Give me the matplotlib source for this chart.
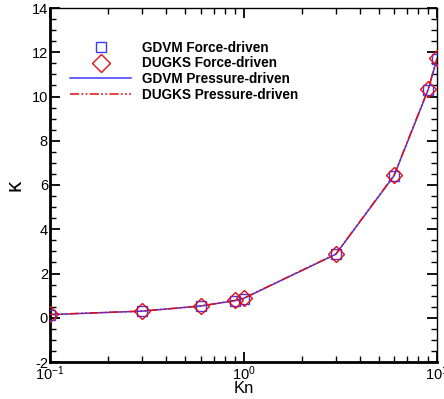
import matplotlib
matplotlib.use("Agg")
import matplotlib.pyplot as plt
from matplotlib.lines import Line2D
from matplotlib.ticker import MultipleLocator, LogLocator, NullFormatter

plt.rcParams['font.family'] = ['Liberation Sans', 'DejaVu Sans']
plt.rcParams['mathtext.fontset'] = 'custom'
plt.rcParams['mathtext.rm'] = 'Liberation Sans'
plt.rcParams['axes.unicode_minus'] = False

kn = [0.1, 0.3, 0.6, 0.9, 1.0, 3.0, 6.0, 9.0, 10.0]
gdvm_force = [0.14, 0.30, 0.53, 0.77, 0.87, 2.87, 6.42, 10.30, 11.68]
dugks_force = [0.15, 0.30, 0.53, 0.78, 0.88, 2.88, 6.44, 10.34, 11.74]
gdvm_pressure = [0.14, 0.30, 0.53, 0.77, 0.87, 2.87, 6.42, 10.30, 11.70]
dugks_pressure = [0.15, 0.30, 0.53, 0.78, 0.88, 2.88, 6.44, 10.33, 11.73]

blue = '#3a3aff'
red = '#e01010'
dashdotdot = [6, 1.5, 1.2, 1.5, 1.2, 1.5]

fig = plt.figure(figsize=(4.44, 3.99), dpi=100)
ax = fig.add_axes([50/444, 1-362/399, 387/444, 354/399])

ax.plot(kn, gdvm_pressure, color=blue, lw=1.1, zorder=2)
ax.plot(kn, dugks_pressure, color=red, lw=1.1, dashes=dashdotdot, zorder=3)
ax.plot(kn, gdvm_force, ls='none', marker='s', ms=6.5, mfc='none', mec=blue,
        mew=1.0, zorder=4)
ax.plot(kn, dugks_force, ls='none', marker='D', ms=8, mfc='none', mec=red,
        mew=1.0, zorder=5)

ax.set_xscale('log')
ax.set_xlim(0.1, 10)
ax.set_ylim(-2, 14)
ax.yaxis.set_major_locator(MultipleLocator(2))
ax.yaxis.set_minor_locator(MultipleLocator(0.5))
ax.xaxis.set_minor_locator(LogLocator(base=10, subs=range(2, 10)))
ax.xaxis.set_minor_formatter(NullFormatter())

ax.tick_params(which='both', direction='in', top=True, right=True, labelsize=10.5, pad=1.5)
ax.tick_params(which='major', length=7, width=1.3)
ax.tick_params(which='minor', length=4, width=1.0)
for side in ['left', 'bottom']:
    ax.spines[side].set_linewidth(2.0)
for side in ['right', 'top']:
    ax.spines[side].set_linewidth(1.0)

ax.set_xlabel('Kn', fontsize=12, labelpad=-1)
ax.set_ylabel('κ', fontsize=16, labelpad=4)

legend_handles = [
    Line2D([], [], ls='none', marker='s', ms=7, mfc='none', mec=blue, mew=1.0),
    Line2D([], [], ls='none', marker='D', ms=9.5, mfc='none', mec=red, mew=1.0),
    Line2D([], [], color=blue, lw=1.1),
    Line2D([], [], color=red, lw=1.1, dashes=dashdotdot),
]
legend_labels = ['GDVM Force-driven', 'DUGKS Force-driven',
                 'GDVM Pressure-driven', 'DUGKS Pressure-driven']
ax.legend(legend_handles, legend_labels,
          loc='upper left', bbox_to_anchor=(0.02, 0.942), frameon=False,
          handlelength=4.5, handletextpad=0.8, labelspacing=0.12,
          prop={'weight': 'bold', 'size': 9.8})

fig.savefig('out.png', dpi=100)
